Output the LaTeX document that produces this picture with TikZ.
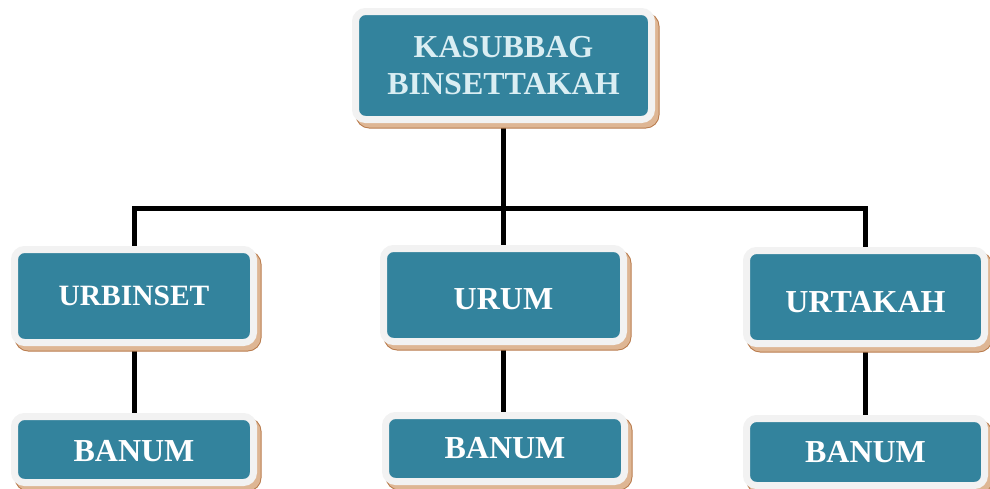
\documentclass[tikz,border=0pt]{standalone}
\usepackage{fontspec}
\setmainfont{Liberation Serif}
\usetikzlibrary{backgrounds}
\definecolor{teal1}{RGB}{51,131,157}
\definecolor{rim}{RGB}{242,242,242}
\definecolor{shadowdark}{RGB}{184,122,75}
\definecolor{shadowlight}{RGB}{222,182,148}
\definecolor{toptext}{RGB}{218,238,243}
\tikzset{
  orgbox/.style={rectangle, rounded corners=10pt, fill=teal1, draw=rim, line width=7pt,
    text=white, font=\bfseries\fontsize{32}{37}\selectfont, align=center, inner sep=0pt,
    preaction={draw=shadowdark, fill=shadowdark, line width=8pt, transform canvas={xshift=4pt,yshift=-5pt}},
    preaction={draw=shadowlight, fill=shadowlight, line width=6pt, transform canvas={xshift=4pt,yshift=-5pt}}},
  conn/.style={line width=5pt, black, line join=miter}
}
\begin{document}
\begin{tikzpicture}[x=1pt,y=-1pt]
\useasboundingbox (0,0) rectangle (990,488);
\node[orgbox, minimum width=296pt, minimum height=108pt, text=toptext] (top) at (503.5,65.5) {KASUBBAG\\BINSETTAKAH};
\node[orgbox, minimum width=239pt, minimum height=93pt, font=\bfseries\fontsize{29.5}{34}\selectfont] (urb) at (134,296) {URBINSET};
\node[orgbox, minimum width=240pt, minimum height=93pt, text height=29.2pt, text depth=0pt] (urum) at (503.5,295) {URUM};
\node[orgbox, minimum width=238pt, minimum height=93pt, text height=31.2pt, text depth=0pt] (urt) at (865.5,297) {URTAKAH};
\node[orgbox, minimum width=239pt, minimum height=66pt, text height=24.2pt, text depth=0pt] (b1) at (134,449.5) {BANUM};
\node[orgbox, minimum width=239pt, minimum height=66pt] (b2) at (505,448.5) {BANUM};
\node[orgbox, minimum width=238pt, minimum height=67pt] (b3) at (865.5,452) {BANUM};
\coordinate (bar) at (0,208);
\begin{scope}[on background layer]
\draw[conn] (top.south) -- (top.south |- bar);
\draw[conn] (urb.north) -- (urb.north |- bar) -- (urt.north |- bar) -- (urt.north);
\draw[conn] (urum.north |- bar) -- (urum.north);
\draw[conn] (urb.south) -- (b1.north);
\draw[conn] (urum.south) -- (urum.south |- b2.north);
\draw[conn] (urt.south) -- (b3.north);
\end{scope}
\end{tikzpicture}
\end{document}
